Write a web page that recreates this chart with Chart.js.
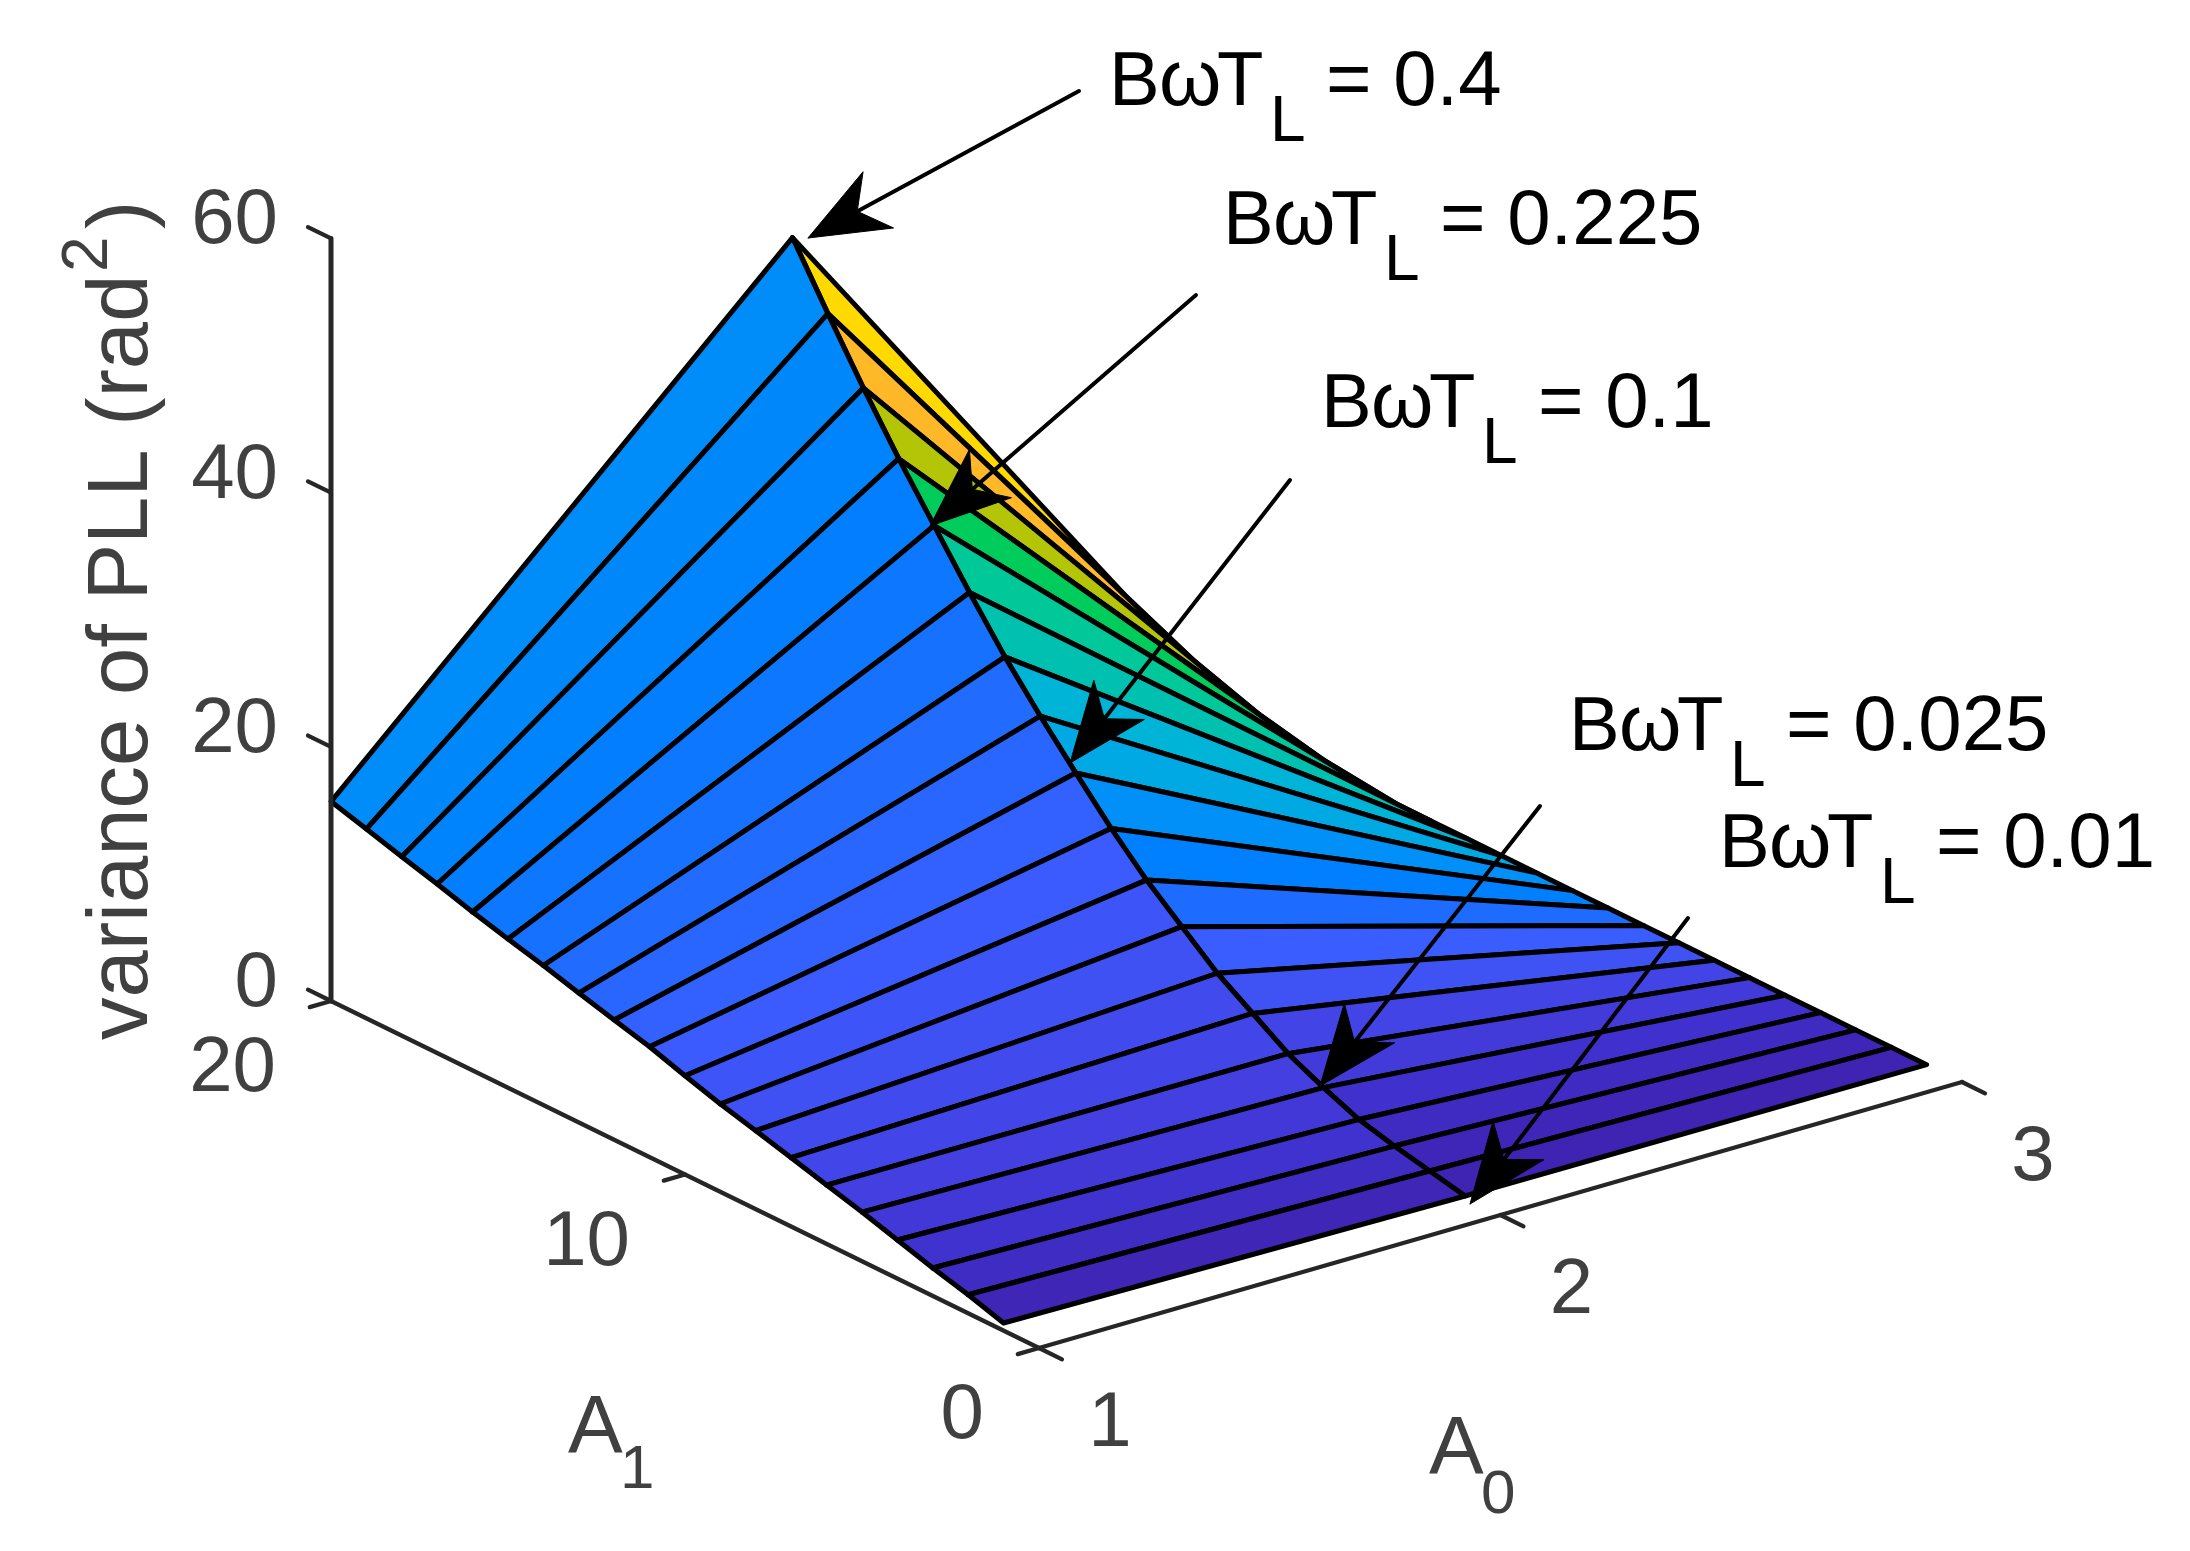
<!DOCTYPE html>
<html>
<head>
<meta charset="utf-8">
<title>variance of PLL</title>
<script src="https://cdn.jsdelivr.net/npm/chart.js@4/dist/chart.umd.min.js"></script>
<style>
  html, body { margin: 0; padding: 0; background: #fff; }
  #wrap { width: 2190px; height: 1551px; }
</style>
</head>
<body>
<div id="wrap"><canvas id="surface"></canvas></div>
<script>
// grid of the surface
const a0Values = [1, 2, 3];
const a1Values = [1, 2, 3, 4, 5, 6, 7, 8, 9, 10, 11, 12, 13, 14, 15, 16, 17, 18, 19, 20];

// variance (rad^2) along A1, one list per A0 value
const varianceA0_1 = [0.6, 1.46, 2.2, 3.04, 3.87, 4.63, 5.42, 6.18, 6.91, 7.77, 8.69, 9.43, 10.18, 10.98, 11.7, 12.46, 13.3, 14.08, 14.9, 15.69];
const varianceA0_2 = [0.13, 0.73, 1.33, 2.05, 3.2, 4.5, 6.3, 8.1, 10.4, 12.7, 15.4, 18.4, 21.5, 24.8, 28.5, 32.4, 36.3, 40.5, 44.98, 49.6];
const varianceA0_3 = [0, 0, 0, 0, 0, 0.02, 0.02, 0.03, 0.03, 0.04, 0.04, 0.05, 0.05, 0.06, 0.06, 0.07, 0.07, 0.08, 0.08, 0.09];

const zTicks = [0, 20, 40, 60];
const a1Ticks = [0, 10, 20];
const a0Ticks = [1, 2, 3];

// colour ramp used for the cells, variance -> colour
const rampValues = [0, 1, 2, 4, 6, 8, 10.4, 12.7, 15.4, 18.4, 21.5, 24.8, 28.5, 32.4, 36.3, 40.5, 45];
const rampColors = ['#3f22b0', '#3f28bc', '#4030cc', '#4340e2', '#4050f2', '#3a5cff', '#1e6cff', '#0080ff', '#0090f8',
  '#00a8e4', '#00b4d8', '#00c0b0', '#00c898', '#00cc5c', '#b4c406', '#ffb928', '#ffd900'];

// annotations, in picture pixels
const noteText = ['= 0.4', '= 0.225', '= 0.1', '= 0.025', '= 0.01'];
const noteX = [1109, 1223, 1321, 1569, 1719];
const noteY = [105, 244, 427, 750, 867];
const arrowTail = [[1079, 91], [1196, 295], [1290, 480], [1540, 806], [1688, 918]];
const arrowTip = [[808, 238], [930, 526], [1070, 763], [1320, 1086], [1470, 1204]];

const varianceByA0 = [varianceA0_1, varianceA0_2, varianceA0_3];

// orthographic view of the box, same as the matlab view
function project(a0, a1, z) {
    return {
        x: 1039 + 461.5 * (a0 - 1) - 35.4 * a1,
        y: 1348 - 133 * (a0 - 1) - 17.35 * a1 - 12.71 * z
    };
}

function hexToRgb(h) {
    return [parseInt(h.slice(1, 3), 16), parseInt(h.slice(3, 5), 16), parseInt(h.slice(5, 7), 16)];
}

function rampColor(v) {
    let i = 0;
    while (i < rampValues.length - 2 && v > rampValues[i + 1]) i++;
    const t = Math.min(1, Math.max(0, (v - rampValues[i]) / (rampValues[i + 1] - rampValues[i])));
    const a = hexToRgb(rampColors[i]);
    const b = hexToRgb(rampColors[i + 1]);
    const c = a.map((p, n) => Math.round(p + (b[n] - p) * t));
    return `rgb(${c[0]},${c[1]},${c[2]})`;
}

const datasets = [];

function addPath(points, borderColor, borderWidth, fillColor) {
    datasets.push({
        data: points,
        showLine: true,
        pointRadius: 0,
        borderColor: borderColor,
        borderWidth: borderWidth,
        backgroundColor: fillColor || 'transparent',
        fill: fillColor ? 'shape' : false,
        tension: 0,
        clip: false,
        borderJoinStyle: 'round',
        borderCapStyle: 'round'
    });
}

// far cells first: right part of the surface, then the left part, each from A1 = 20 down
for (let s = a0Values.length - 2; s >= 0; s--) {
    for (let k = a1Values.length - 1; k > 0; k--) {
        const p1 = project(a0Values[s], a1Values[k], varianceByA0[s][k]);
        const p2 = project(a0Values[s + 1], a1Values[k], varianceByA0[s + 1][k]);
        const p3 = project(a0Values[s + 1], a1Values[k - 1], varianceByA0[s + 1][k - 1]);
        const p4 = project(a0Values[s], a1Values[k - 1], varianceByA0[s][k - 1]);
        addPath([p1, p2, p3, p4, p1], '#000', 5, rampColor(varianceByA0[s][k - 1]));
    }
}

// box axes
const axisColor = '#262626';
addPath([project(1, 20, 0), project(1, 20, 60)], axisColor, 5);
addPath([project(1, 0, 0), project(1, 20, 0)], axisColor, 4.2);
addPath([project(1, 0, 0), project(3, 0, 0)], axisColor, 4.2);
zTicks.forEach(t => addPath([project(1, 20, t), project(1, 20.65, t)], axisColor, 4.2));
a1Ticks.forEach(t => addPath([project(1, t, 0), project(0.954, t, 0)], axisColor, 4.2));
a0Ticks.forEach(t => addPath([project(t, 0, 0), project(t, -0.65, 0)], axisColor, 4.2));

// arrows of the notes
arrowTail.forEach((tail, i) => {
    const tip = arrowTip[i];
    const dx = tail[0] - tip[0];
    const dy = tail[1] - tip[1];
    const len = Math.hypot(dx, dy);
    const ux = dx / len;
    const uy = dy / len;
    const at = (along, side) => ({ x: tip[0] + ux * along - uy * side, y: tip[1] + uy * along + ux * side });
    addPath([{ x: tail[0], y: tail[1] }, at(50, 0)], '#000', 4, null);
    addPath([at(0, 0), at(80, 32), at(56, 0), at(80, -32), at(0, 0)], '#000', 1, '#000');
});

// later paths go on top
datasets.forEach((d, i) => { d.order = datasets.length - i; });

const textPlugin = {
    id: 'surfaceText',
    afterDraw(chart) {
        const ctx = chart.ctx;
        const sx = chart.scales.x;
        const sy = chart.scales.y;
        const put = (str, x, y, size, color, align) => {
            ctx.font = `${size}px "Liberation Sans", Arial, sans-serif`;
            ctx.fillStyle = color;
            ctx.textAlign = align || 'left';
            ctx.textBaseline = 'alphabetic';
            ctx.fillText(str, sx.getPixelForValue(x), sy.getPixelForValue(y));
        };
        const gray = '#404040';

        zTicks.forEach(t => {
            const p = project(1, 20, t);
            put(String(t), p.x - 53, p.y + 5, 78, gray, 'right');
        });
        a1Ticks.forEach(t => {
            const p = project(1, t, 0);
            put(String(t), p.x - 55, p.y + 90, 78, gray, 'right');
        });
        a0Ticks.forEach(t => {
            const p = project(t, 0, 0);
            put(String(t), p.x + 71, p.y + 98, 78, gray, 'center');
        });

        put('A', 568, 1452, 82, gray);
        put('1', 620, 1488, 62, gray);
        put('A', 1429, 1473, 82, gray);
        put('0', 1481, 1513, 62, gray);

        // rotated label
        ctx.save();
        ctx.translate(sx.getPixelForValue(147), sy.getPixelForValue(1040));
        ctx.rotate(-Math.PI / 2);
        ctx.fillStyle = gray;
        ctx.textAlign = 'left';
        ctx.font = '85px "Liberation Sans", Arial, sans-serif';
        ctx.fillText('variance of PLL (rad', 0, 0);
        ctx.font = '64px "Liberation Sans", Arial, sans-serif';
        ctx.fillText('2', 768, -40);
        ctx.font = '85px "Liberation Sans", Arial, sans-serif';
        ctx.fillText(')', 811, 0);
        ctx.restore();

        // B w T are placed one by one, the original set them tighter than this font does
        noteText.forEach((text, i) => {
            put('B', noteX[i], noteY[i], 76, '#000');
            put('\u03c9', noteX[i] + 50, noteY[i], 80, '#000');
            put('T', noteX[i] + 108, noteY[i], 76, '#000');
            put('L', noteX[i] + 161, noteY[i] + 36, 64, '#000');
            put(text, noteX[i] + 217, noteY[i], 78, '#000');
        });
    }
};

new Chart(document.getElementById('surface'), {
    type: 'scatter',
    data: { datasets: datasets },
    options: {
        responsive: true,
        maintainAspectRatio: false,
        animation: false,
        events: [],
        layout: { padding: 0 },
        scales: {
            x: { type: 'linear', min: 0, max: 2190, display: false },
            y: { type: 'linear', min: 0, max: 1551, reverse: true, display: false }
        },
        plugins: {
            legend: { display: false },
            tooltip: { enabled: false },
            filler: { propagate: false }
        }
    },
    plugins: [textPlugin]
});
</script>
</body>
</html>
